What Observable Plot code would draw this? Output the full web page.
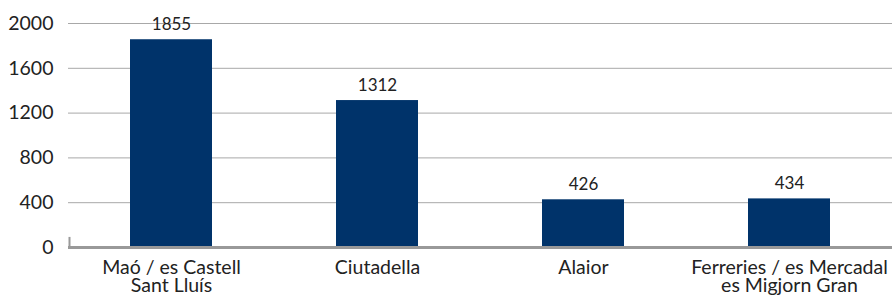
<!DOCTYPE html>
<html>
<head>
<meta charset="utf-8">
<script src="https://cdn.jsdelivr.net/npm/d3@7"></script>
<script src="https://cdn.jsdelivr.net/npm/@observablehq/plot@0.6"></script>
<style>
  html, body { margin: 0; padding: 0; background: #fff; }
  #chart svg { display: block; }
</style>
</head>
<body>
<div id="chart"></div>
<script>
const categories = ["Maó / es Castell\nSant Lluís", "Ciutadella", "Alaior", "Ferreries / es Mercadal\nes Migjorn Gran"];
const values = [1855, 1312, 426, 434];
const yTicks = [0, 400, 800, 1200, 1600, 2000];

const data = categories.map((c, i) => ({category: c, value: values[i]}));

const W = 892, H = 302, mL = 68, mR = 0;
const pInner = 0.6, pOuter = 0.3;
const step = (W - mL - mR) / (categories.length - pInner + 2 * pOuter);
const bw = step * (1 - pInner);
const leftOffset = -(step * pOuter + bw / 2) + 1;

const chart = Plot.plot({
  width: W,
  height: H,
  marginLeft: mL,
  marginRight: mR,
  marginTop: 23,
  marginBottom: 55,
  style: {fontFamily: "Lato, 'Open Sans', sans-serif", color: "#222", background: "#fff"},
  x: {domain: categories, paddingInner: pInner, paddingOuter: pOuter, label: null},
  y: {domain: [0, 2000], label: null},
  marks: [
    Plot.ruleY(yTicks.filter(d => d > 0), {stroke: "#a8a8a8", strokeWidth: 1}),
    Plot.axisY({ticks: yTicks, tickSize: 0, tickPadding: 15, fontSize: 19.5, tickFormat: d => String(d), label: null}),
    Plot.axisX({tickSize: 0, tickPadding: 13, fontSize: 19.5, label: null, lineHeight: 0.95}),
    Plot.barY(data, {x: "category", y: "value", fill: "#00336a"}),
    Plot.ruleY([0], {stroke: "#999", strokeWidth: 3}),
    Plot.ruleX([categories[0]], {x: d => d, y1: 0, y2: 90, stroke: "#999", strokeWidth: 2, dx: leftOffset}),
    Plot.text(data, {x: "category", y: "value", text: d => String(d.value), lineAnchor: "bottom", dy: -10, fontSize: 17, fill: "#222"})
  ]
});
document.getElementById("chart").appendChild(chart);
</script>
</body>
</html>
